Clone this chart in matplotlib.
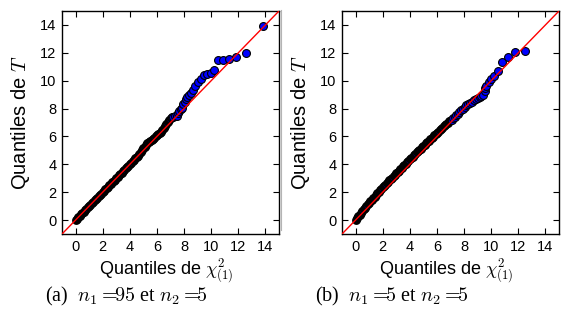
import matplotlib
matplotlib.use("Agg")
import matplotlib.pyplot as plt
from matplotlib.lines import Line2D

plt.rcParams['font.family'] = ['Liberation Sans', 'DejaVu Sans']
plt.rcParams['mathtext.fontset'] = 'cm'

# quantiles chi2(1) (axe x) -- partie dense
x_dense = [0.0, 0.1, 0.2, 0.3, 0.4, 0.5, 0.6, 0.7, 0.8, 0.9,
           1.0, 1.1, 1.2, 1.3, 1.4, 1.5, 1.6, 1.7, 1.8, 1.9,
           2.0, 2.1, 2.2, 2.3, 2.4, 2.5, 2.6, 2.7, 2.8, 2.9,
           3.0, 3.1, 3.2, 3.3, 3.4, 3.5, 3.6, 3.7, 3.8, 3.9,
           4.0, 4.1, 4.2, 4.3, 4.4, 4.5, 4.6, 4.7, 4.8, 4.9,
           5.0, 5.1, 5.2, 5.3, 5.4, 5.5, 5.6, 5.7, 5.8, 5.9,
           6.0, 6.1, 6.2, 6.3, 6.4, 6.5, 6.6, 6.7, 6.8, 6.9,
           7.0]

# (a) n1=95, n2=5
ya_dense = [0.00, 0.10, 0.21, 0.31, 0.41, 0.51, 0.61, 0.71, 0.81, 0.91,
            1.01, 1.11, 1.21, 1.31, 1.41, 1.51, 1.61, 1.70, 1.80, 1.90,
            2.00, 2.10, 2.20, 2.30, 2.40, 2.50, 2.60, 2.70, 2.80, 2.90,
            3.00, 3.10, 3.20, 3.30, 3.40, 3.50, 3.60, 3.70, 3.80, 3.91,
            4.01, 4.12, 4.22, 4.33, 4.43, 4.53, 4.63, 4.74, 4.85, 5.02,
            5.14, 5.25, 5.40, 5.52, 5.62, 5.68, 5.75, 5.83, 5.92, 6.02,
            6.10, 6.15, 6.22, 6.35, 6.45, 6.60, 6.74, 6.88, 7.02, 7.15,
            7.30]
xa_tail = [7.1, 7.2, 7.35, 7.45, 7.57, 7.65, 7.75, 7.82, 7.94, 8.05, 8.14,
           8.25, 8.39, 8.5, 8.63, 8.8, 9.05, 9.25, 9.49, 9.71, 9.96, 10.23,
           10.53, 10.87, 11.29, 11.83, 12.59, 13.84]
ya_tail = [7.37, 7.4, 7.45, 7.5, 7.65, 7.8, 7.95, 8.05, 8.3, 8.5, 8.66,
           8.8, 8.95, 9.15, 9.33, 9.61, 9.88, 10.09, 10.38, 10.45, 10.57, 10.74,
           11.46, 11.5, 11.57, 11.69, 12.0, 13.94]

# (b) n1=5, n2=5
yb_dense = [0.00, 0.13, 0.26, 0.39, 0.52, 0.65, 0.77, 0.89, 1.01, 1.13,
            1.25, 1.36, 1.47, 1.58, 1.69, 1.80, 1.91, 2.02, 2.13, 2.23,
            2.34, 2.45, 2.55, 2.65, 2.75, 2.85, 2.95, 3.05, 3.15, 3.25,
            3.35, 3.45, 3.55, 3.65, 3.75, 3.85, 3.95, 4.05, 4.15, 4.25,
            4.35, 4.45, 4.55, 4.65, 4.75, 4.85, 4.94, 5.04, 5.13, 5.23,
            5.32, 5.42, 5.51, 5.61, 5.70, 5.79, 5.88, 5.98, 6.07, 6.16,
            6.26, 6.35, 6.44, 6.54, 6.63, 6.72, 6.81, 6.91, 7.00, 7.10,
            7.19]
xb_tail = [7.1, 7.2, 7.3, 7.43, 7.55, 7.65, 7.8, 7.92, 8.05, 8.17, 8.29,
           8.45, 8.61, 8.75, 8.91, 9.03, 9.15, 9.28, 9.39, 9.52, 9.58, 9.65,
           9.84, 10.01, 10.21, 10.48, 10.77, 11.22, 11.73, 12.52]
yb_tail = [7.2, 7.3, 7.38, 7.53, 7.62, 7.72, 7.89, 8.0, 8.13, 8.22, 8.3,
           8.4, 8.49, 8.58, 8.66, 8.73, 8.8, 8.88, 8.97, 9.23, 9.45, 9.63,
           9.88, 10.11, 10.35, 10.71, 11.33, 11.72, 12.05, 12.15]

ticks = [0, 2, 4, 6, 8, 10, 12, 14]
lims = [-1, 15]

fig = plt.figure(figsize=(5.65, 3.24), dpi=100)
ax1 = fig.add_axes([62/565, 90/324, 217/565, 223/324])
ax2 = fig.add_axes([342/565, 90/324, 217/565, 223/324])

panneaux = [(ax1, ya_dense, xa_tail, ya_tail),
            (ax2, yb_dense, xb_tail, yb_tail)]

for ax, yd, xt, yt in panneaux:
    # partie dense : les contours noirs se recouvrent
    ax.scatter(x_dense, yd, s=20, c='#0000ff', edgecolors='black', linewidths=1.9, zorder=2)
    ax.scatter(xt, yt, s=32, c='#0000ff', edgecolors='black', linewidths=0.8, zorder=2)
    ax.plot(lims, lims, color='red', lw=1.0, zorder=3)
    ax.set_xlim(lims)
    ax.set_ylim(lims)
    ax.set_xticks(ticks)
    ax.set_yticks(ticks)
    ax.tick_params(direction='in', top=True, right=True, length=4, width=0.8,
                   labelsize=10.5, pad=4)
    for sp in ax.spines.values():
        sp.set_linewidth(1.0)
    ax.set_xlabel(r'Quantiles de $\chi^2_{(1)}$', fontsize=13)
    ax.set_ylabel(r'Quantiles de $T$', fontsize=14.5)
    ax.xaxis.set_label_coords(0.48, -0.1)
    ax.yaxis.set_label_coords(-0.138, 0.5)

# legendes des sous-figures
fig.text(126/565, 1 - 296/324, r'(a)  $n_1 =\!\!95$ et $n_2 =\!\!5$', ha='center', va='center',
         fontsize=14.5, family='Liberation Serif')
fig.text(392/565, 1 - 296/324, r'(b)  $n_1 =\!\!5$ et $n_2 =\!\!5$', ha='center', va='center',
         fontsize=14.5, family='Liberation Serif')

# bord gris de la seconde sous-figure
fig.add_artist(Line2D([281/565, 281/565], [1 - 230/324, 1 - 10/324], color='#b4b4b4', lw=0.8))

fig.savefig('out.png', dpi=100)
